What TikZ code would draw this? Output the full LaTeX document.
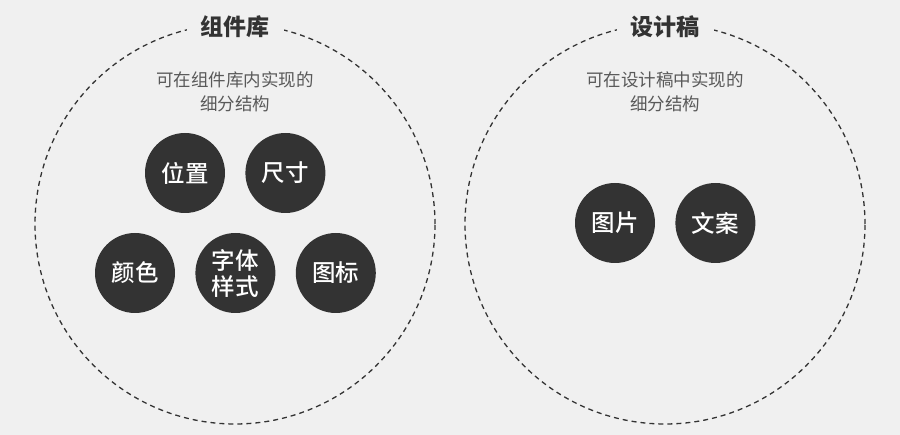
\documentclass[tikz,border=0pt]{standalone}
\usepackage{fontspec}
\setmainfont{Noto Sans CJK SC}
\newfontfamily\partfont{Noto Sans CJK SC Medium}
\usetikzlibrary{positioning}
\definecolor{bg}{HTML}{F0F0F0}
\definecolor{dark}{HTML}{333333}
\definecolor{subgray}{HTML}{595959}

\begin{document}
\begin{tikzpicture}[x=1pt,y=-1pt]
      \tikzset{
        group ring/.style={draw=dark, line width=1.3pt, dash pattern=on 5pt off 4pt},
        group title/.style={fill=bg, text=dark, inner xsep=14pt, inner ysep=2pt,
            font=\fontsize{23}{26}\selectfont\bfseries},
        group note/.style={text=subgray, align=center,
            font=\fontsize{17.5}{24}\selectfont},
        part/.style={circle, fill=dark, text=white, minimum size=80pt, inner sep=0pt,
            align=center, font=\fontsize{23.5}{26}\selectfont\partfont}
      }

      \def\R{200} % ring radius
      \coordinate (L) at (235, 224); % left ring centre
      \coordinate (Rc) at (665, 224); % right ring centre

      \fill[bg] (0,0) rectangle (900,435); % background
      \useasboundingbox (0,0) rectangle (900,435);

      % Rings
      \draw[group ring] (L) circle (\R pt);
      \draw[group ring] (Rc) circle (\R pt);
      \node[group title] (libtitle) at (235, 27) {组件库};
      \node[group title] (designtitle) at (665, 27) {设计稿};
      \node[group note] (libnote) at (235, 92) {可在组件库内实现的\\细分结构};
      \node[group note] (designnote) at (665, 92) {可在设计稿中实现的\\细分结构};

      % Parts in the component library
      \node[part] (position) at (185, 173) {位置};
      \node[part, right=20pt of position] (size) {尺寸};
      \node[part] (colour) at (135, 273) {颜色};
      \node[part, right=20pt of colour] (typeface) {字体\\样式};
      \node[part, right=20pt of typeface] (icon) {图标};

      % Parts in the design draft
      \node[part] (image) at (615, 223) {图片};
      \node[part, right=20pt of image] (copy) {文案};
    \end{tikzpicture}
\end{document}
